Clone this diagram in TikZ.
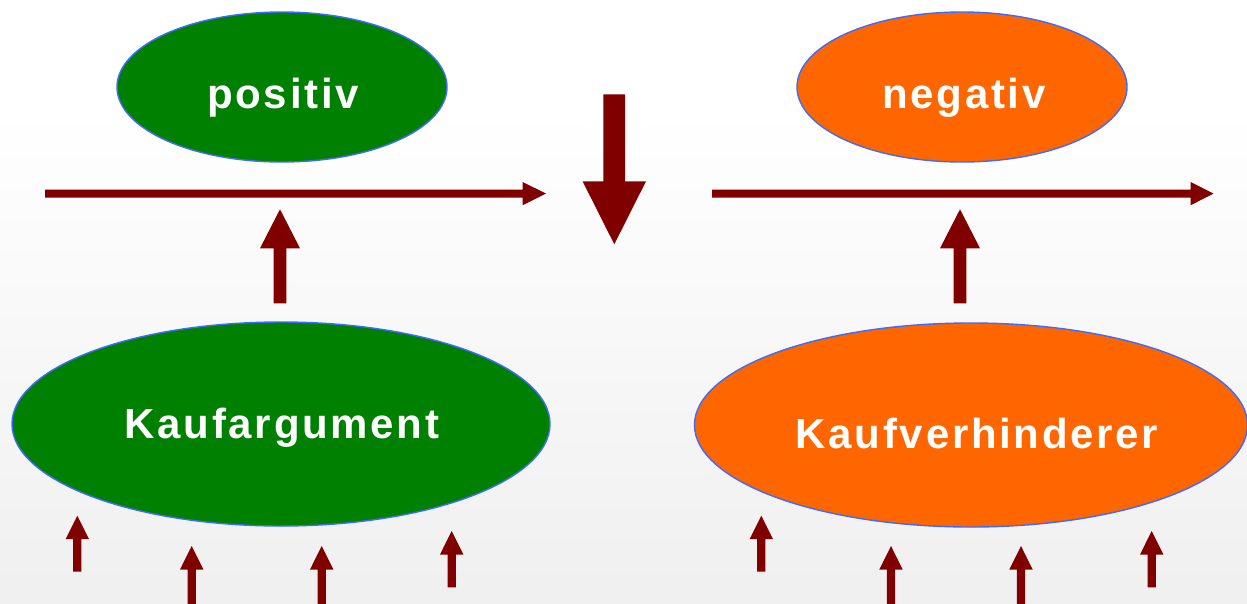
\documentclass[tikz,border=0pt]{standalone}
\usepackage{fontspec}
\usetikzlibrary{shapes.geometric}
\newfontfamily\labelfont{Liberation Sans}[LetterSpace=6.5]
\definecolor{darkred}{HTML}{800000}
\definecolor{posgreen}{HTML}{008000}
\definecolor{negorange}{HTML}{FF6600}
\definecolor{rimblue}{HTML}{3D6BFF}
\definecolor{bgbottom}{HTML}{E6E6E6}
\pgfdeclareverticalshading{bgshade}{100bp}{color(0bp)=(bgbottom); color(66bp)=(white); color(100bp)=(white)}

% vertical block arrow: tip x, tip y, tail y, half shaft width, half head width, signed head length
\newcommand{\vblockarrow}[6]{%
  \fill[blockarrow] ({#1-#4},{#3}) -- ({#1-#4},{#2+#6}) -- ({#1-#5},{#2+#6}) -- (#1,#2)
    -- ({#1+#5},{#2+#6}) -- ({#1+#4},{#2+#6}) -- ({#1+#4},{#3}) -- cycle;}
% horizontal block arrow pointing right: tail x, tip x, axis y, half shaft width, half head width, head length
\newcommand{\hblockarrow}[6]{%
  \fill[blockarrow] (#1,{#3-#4}) -- ({#2-#6},{#3-#4}) -- ({#2-#6},{#3-#5}) -- (#2,#3)
    -- ({#2-#6},{#3+#5}) -- ({#2-#6},{#3+#4}) -- (#1,{#3+#4}) -- cycle;}

\begin{document}
\begin{tikzpicture}[x=1pt,y=-1pt,
  blockarrow/.style={fill=darkred},
  bubble/.style={ellipse, draw=rimblue, line width=1.4pt, inner sep=0pt},
  bubbletext/.style={text=white, anchor=base, inner sep=0pt,
    font=\labelfont\bfseries\fontsize{42}{50}\selectfont}]
  \useasboundingbox (0,0) rectangle (1247,603);
  \clip (0,0) rectangle (1247,603);
  \shade[shading=bgshade] (0,0) rectangle (1247,603);

  % outcome bubbles
  \node[bubble, fill=posgreen, minimum width=330pt, minimum height=150pt] (pos) at (282,87) {};
  \node[bubble, fill=negorange, minimum width=330pt, minimum height=150pt] (neg) at (962,87) {};
  % cause bubbles
  \node[bubble, fill=posgreen, minimum width=538pt, minimum height=204pt] (arg) at (281,424) {};
  \node[bubble, fill=negorange, minimum width=553pt, minimum height=204pt] (hind) at (971,425) {};

  \node[bubbletext] (posText) at (283,108) {positiv};
  \node[bubbletext] (negText) at (964,108) {negativ};
  \node[bubbletext] (argText) at (282,438.3) {Kaufargument};
  \node[bubbletext] (hindText) at (977,448.3) {Kaufverhinderer};

  % process lines
  \hblockarrow{45}{546}{193.6}{4.1}{11.7}{23.5}
  \hblockarrow{712}{1213.5}{193.6}{4.1}{11.7}{23}

  % large down arrow between the two sides
  \vblockarrow{614.3}{244.3}{94.3}{10.9}{31.7}{-63}

  % arrows from the cause bubbles up to the lines
  \vblockarrow{280}{209.3}{303.3}{6.4}{20}{39}
  \vblockarrow{960}{209.3}{303.3}{6.4}{20}{39}

  % small incoming arrows below the bubbles
  \foreach \ax/\ay/\ab in {77.3/515.7/571.7, 191.7/546/610, 321.7/546/610, 451.7/531/587.3,
                           761.3/515.7/571.7, 891/546/610, 1021/546/610, 1151.7/531/587.3}
    \vblockarrow{\ax}{\ay}{\ab}{4.1}{11.7}{23.5};
\end{tikzpicture}
\end{document}
